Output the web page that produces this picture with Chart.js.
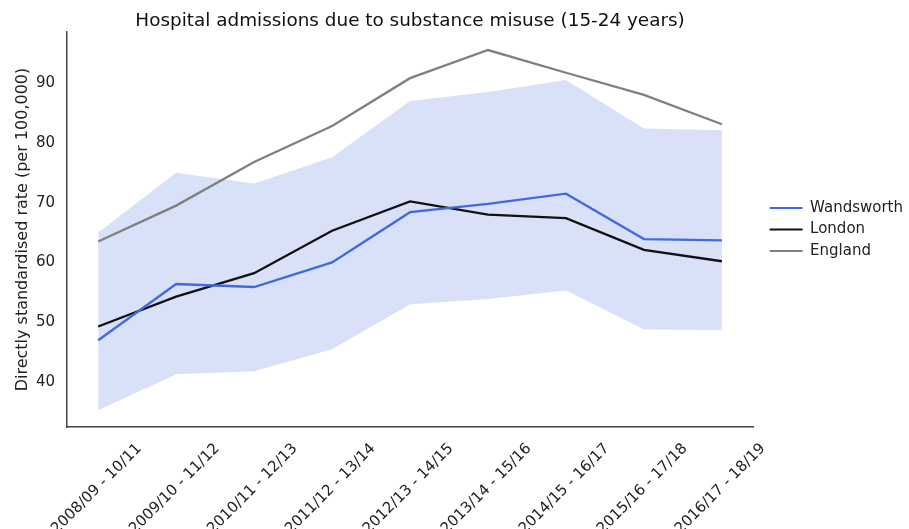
<!DOCTYPE html>
<html>
<head>
<meta charset="utf-8">
<script src="https://cdn.jsdelivr.net/npm/chart.js@4/dist/chart.umd.min.js"></script>
<style>
  html, body { margin: 0; padding: 0; background: #ffffff; }
  #wrap { width: 909px; height: 529px; }
</style>
</head>
<body>
<div id="wrap"><canvas id="c" width="909" height="529"></canvas></div>
<script>
const categories = [
  "2008/09 - 10/11", "2009/10 - 11/12", "2010/11 - 12/13", "2011/12 - 13/14",
  "2012/13 - 14/15", "2013/14 - 15/16", "2014/15 - 16/17", "2015/16 - 17/18",
  "2016/17 - 18/19"
];
const wandsworth = [47.0, 56.4, 55.9, 60.0, 68.4, 69.8, 71.5, 63.9, 63.7];
const london     = [49.3, 54.3, 58.2, 65.3, 70.2, 68.0, 67.4, 62.1, 60.2];
const england    = [63.5, 69.5, 76.8, 82.8, 90.8, 95.5, 91.7, 88.0, 83.1];
const ciUpper    = [65.0, 75.0, 73.2, 77.6, 87.0, 88.5, 90.5, 82.4, 82.1];
const ciLower    = [35.3, 41.3, 41.8, 45.5, 53.0, 53.9, 55.3, 48.8, 48.7];
const yTicks     = [40, 50, 60, 70, 80, 90];

const FONT = "'DejaVu Sans', 'Liberation Sans', sans-serif";

const legendShift = {
  id: 'legendShift',
  afterLayout(chart) {
    if (chart.legend) { chart.legend.left += 10; chart.legend.right += 10; }
  }
};

const lineDs = (label, data, color) => ({
  label, data, borderColor: color, backgroundColor: color,
  borderWidth: 2.3, pointRadius: 0, pointHoverRadius: 0, tension: 0, fill: false, order: 0
});

new Chart(document.getElementById('c'), {
  type: 'line',
  data: {
    labels: categories.map((_, i) => i),
    datasets: [
      lineDs('Wandsworth', wandsworth, '#4169e1'),
      lineDs('London', london, '#111111'),
      lineDs('England', england, '#808080'),
      { label: 'CI lower', data: ciLower, borderWidth: 0, borderColor: 'rgba(0,0,0,0)',
        pointRadius: 0, fill: false, order: 1 },
      { label: 'CI upper', data: ciUpper, borderWidth: 0, borderColor: 'rgba(0,0,0,0)',
        backgroundColor: 'rgba(65,105,225,0.2)', pointRadius: 0, fill: '-1', order: 1 }
    ]
  },
  options: {
    responsive: false,
    animation: false,
    devicePixelRatio: 1,
    layout: { padding: { left: 0, right: 6, top: 0, bottom: 0 } },
    plugins: {
      tooltip: { enabled: false },
      title: {
        display: true,
        fullSize: false,
        text: 'Hospital admissions due to substance misuse (15-24 years)',
        color: '#111',
        font: { family: FONT, size: 18.4, weight: 'normal' },
        padding: { top: 10, bottom: 0 }
      },
      legend: {
        position: 'right',
        fullSize: false,
        labels: {
          color: '#222',
          font: { family: FONT, size: 15 },
          boxWidth: 33,
          boxHeight: 2,
          padding: 6.5,
          filter: (item) => item.datasetIndex < 3,
          generateLabels(chart) {
            const items = Chart.defaults.plugins.legend.labels.generateLabels(chart);
            items.forEach(it => {
              const ds = chart.data.datasets[it.datasetIndex];
              it.fillStyle = ds.borderColor;
              it.strokeStyle = ds.borderColor;
              it.lineWidth = 0;
            });
            return items;
          }
        }
      }
    },
    scales: {
      x: {
        type: 'linear',
        min: -0.4,
        max: 8.4,
        afterBuildTicks(scale) { scale.ticks = categories.map((_, i) => ({ value: i })); },
        afterFit(scale) { scale.height = 102; scale.paddingLeft = 0; scale.paddingRight = 0; },
        grid: { display: false, drawTicks: false },
        border: { display: true, color: '#444', width: 1.5 },
        ticks: {
          autoSkip: false,
          maxRotation: 45,
          minRotation: 45,
          labelOffset: 41,
          padding: 13,
          color: '#222',
          font: { family: FONT, size: 15 },
          callback: (v) => categories[v] ?? ''
        }
      },
      y: {
        type: 'linear',
        min: 32.5,
        max: 98.5,
        afterBuildTicks(scale) { scale.ticks = yTicks.map(v => ({ value: v })); },
        afterFit(scale) { scale.width = 67; },
        grid: { display: false, drawTicks: false },
        border: { display: true, color: '#444', width: 1.5 },
        ticks: {
          padding: 12,
          color: '#222',
          font: { family: FONT, size: 15 },
          callback: (v) => String(v)
        },
        title: {
          display: true,
          text: 'Directly standardised rate (per 100,000)',
          color: '#222',
          font: { family: FONT, size: 16 },
          padding: { top: 13, bottom: 0 }
        }
      }
    }
  },
  plugins: [legendShift]
});
</script>
</body>
</html>
